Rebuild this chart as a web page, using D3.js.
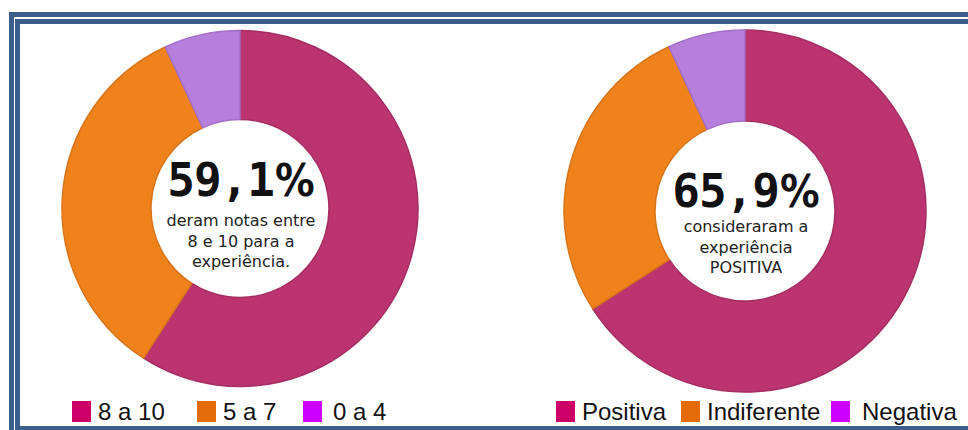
<!DOCTYPE html>
<html>
<head>
<meta charset="utf-8">
<script src="https://cdn.jsdelivr.net/npm/d3@7"></script>
<style>
  body { margin: 0; background: #fff; }
  svg { display: block; }
</style>
</head>
<body>
<div id="chart"></div>
<script>
var w = 968, h = 430;

// data
var notasLabels = ["8 a 10", "5 a 7", "0 a 4"];
var notasValues = [59.1, 34.0, 6.9];
var expLabels = ["Positiva", "Indiferente", "Negativa"];
var expValues = [65.9, 27.2, 6.9];
var headlines = ["59,1", "65,9"];
var captions = [
    ["deram notas entre", "8 e 10 para a", "experiência."],
    ["consideraram a", "experiência", "POSITIVA"]
];

var sliceColors = ["#bb3470", "#f0821c", "#b77fdc"];
var sliceStroke = ["#a52d62", "#d8741a", "#a36ec9"];
var legendColors = ["#cc0066", "#e36c09", "#cc00ff"];

var svg = d3.select("#chart")
    .append("svg")
    .attr("width", w)
    .attr("height", h);

// double frame
svg.append("rect")
    .attr("x", 11.5).attr("y", 14.5)
    .attr("width", 1000).attr("height", 500)
    .attr("fill", "none")
    .attr("stroke", "#3b5e8c")
    .attr("stroke-width", 5);
svg.append("rect")
    .attr("x", 17.5).attr("y", 21.5)
    .attr("width", 1000).attr("height", 407)
    .attr("fill", "none")
    .attr("stroke", "#3b5e8c")
    .attr("stroke-width", 5);

var pie = d3.pie().sort(null).value(d => d);

function drawDonut(values, cx, cy, rOut, rIn, headline, lines, headY, lineY) {
    var arc = d3.arc().innerRadius(rIn).outerRadius(rOut);
    var g = svg.append("g").attr("transform", `translate(${cx},${cy})`);

    g.selectAll("path")
        .data(pie(values))
        .enter()
        .append("path")
        .attr("d", arc)
        .attr("fill", (d, i) => sliceColors[i])
        .attr("stroke", (d, i) => sliceStroke[i])
        .attr("stroke-width", 1.5)
        .attr("stroke-linejoin", "round");

    var head = g.append("text")
        .attr("x", 1)
        .attr("y", headY)
        .attr("text-anchor", "middle")
        .attr("font-family", "DejaVu Sans Mono")
        .attr("font-weight", "bold")
        .attr("font-size", "46px")
        .attr("letter-spacing", "-1px")
        .attr("fill", "#111");
    head.append("tspan").text(headline);
    head.append("tspan")
        .text("%")
        .attr("dx", 1)
        .attr("letter-spacing", "0px")
        .attr("font-family", "DejaVu Sans Condensed")
        .attr("font-size", "44px");

    g.selectAll("text.cap")
        .data(lines)
        .enter()
        .append("text")
        .attr("class", "cap")
        .text(d => d)
        .attr("x", 1)
        .attr("y", (d, i) => lineY + i * 20.5)
        .attr("text-anchor", "middle")
        .attr("font-family", "DejaVu Sans")
        .attr("font-size", "16px")
        .attr("fill", "#222");
}

drawDonut(notasValues, 240, 208.5, 178, 89, headlines[0], captions[0], -13, 17.5);
drawDonut(expValues, 745, 211, 181, 90, headlines[1], captions[1], -4, 21);

function drawLegend(labels, squareX, textX) {
    var g = svg.append("g");
    var items = g.selectAll("g.item")
        .data(labels)
        .enter()
        .append("g")
        .attr("class", "item");
    items.append("rect")
        .attr("x", (d, i) => squareX[i])
        .attr("y", 401)
        .attr("width", 19)
        .attr("height", 21)
        .attr("fill", (d, i) => legendColors[i]);
    items.append("text")
        .text(d => d)
        .attr("x", (d, i) => textX[i])
        .attr("y", 420)
        .attr("font-family", "Liberation Sans, Arial, sans-serif")
        .attr("font-size", "24px")
        .attr("fill", "#111");
}

drawLegend(notasLabels, [72, 197, 303], [98, 223, 333]);
drawLegend(expLabels, [556, 681, 831], [582, 707, 862]);
</script>
</body>
</html>
